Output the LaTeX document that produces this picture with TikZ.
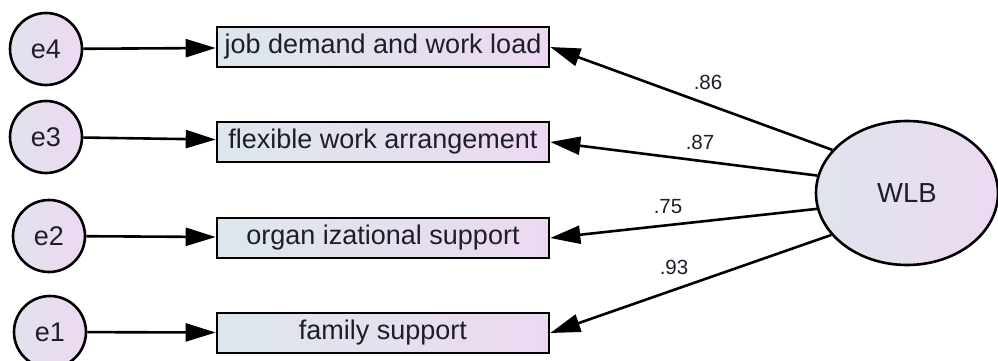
\documentclass[tikz,border=0pt]{standalone}
\usepackage{fontspec}
\setmainfont{Liberation Sans}
\usetikzlibrary{arrows.meta,shapes.geometric}
\definecolor{txt}{RGB}{30,30,40}
\definecolor{fillL}{RGB}{221,231,236}
\definecolor{fillR}{RGB}{236,217,241}
\tikzset{
  every node/.style={text=txt},
  obs/.style={draw=black, line width=2.6pt, minimum width=332pt, minimum height=40pt,
    inner sep=0pt, left color=fillL, right color=fillR, font=\fontsize{27}{30}\selectfont},
  err/.style={draw=black, line width=2.6pt, circle, minimum size=72pt, inner sep=0pt,
    left color=fillL!60!fillR, right color=fillR, font=\fontsize{27}{30}\selectfont},
  lat/.style={draw=black, line width=2.6pt, ellipse, minimum width=182pt, minimum height=144pt,
    inner sep=0pt, left color=fillL!80!fillR, right color=fillR, font=\fontsize{27.5}{30}\selectfont},
  conn/.style={line width=2.6pt, -{Triangle[length=30pt,width=18pt]}},
  coef/.style={font=\fontsize{20.5}{22}\selectfont, inner sep=0pt}
}
\begin{document}
\begin{tikzpicture}[x=1pt,y=-1pt]
\useasboundingbox[fill=white] (0,0) rectangle (998,361);
\node[obs] (b1) at (383,47) {job demand and work load};
\node[obs] (b2) at (383,142) {flexible work arrangement};
\node[obs] (b3) at (383,238) {organ izational support};
\node[obs] (b4) at (383,333) {family support};
\node[err] (e4) at (46,49) {e4};
\node[err] (e3) at (46,137) {e3};
\node[err] (e2) at (49,236) {e2};
\node[err] (e1) at (50,332) {e1};
\node[lat] (wlb) at (907,193) {WLB};
\draw[conn] (e4) -- (b1);
\draw[conn] (e3) -- (b2);
\draw[conn] (e2) -- (b3);
\draw[conn] (e1) -- (b4);
\draw[conn] (wlb.150.8) -- (b1.east);
\draw[conn] (wlb.169.3) -- (b2.east);
\draw[conn] (wlb.190.7) -- (b3.east);
\draw[conn] (wlb.209.7) -- (b4.east);
\node[coef] (c1) at (708,82) {.86};
\node[coef] (c2) at (700,142) {.87};
\node[coef] (c3) at (668,207) {.75};
\node[coef] (c4) at (674,267) {.93};
\end{tikzpicture}
\end{document}
